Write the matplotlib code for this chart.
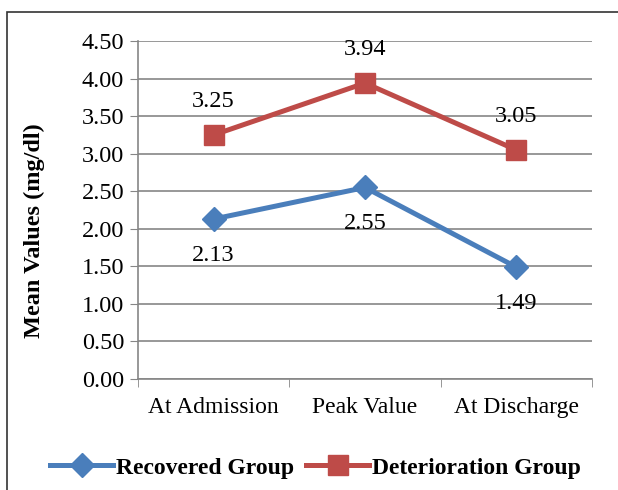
import matplotlib
matplotlib.use('Agg')
from matplotlib import pyplot as plt
from matplotlib.patches import Rectangle
import numpy as np

categories = ['At Admission', 'Peak Value', 'At Discharge']
recovered = [2.13, 2.55, 1.49]
deterioration = [3.25, 3.94, 3.05]
y_ticks = [0.0, 0.5, 1.0, 1.5, 2.0, 2.5, 3.0, 3.5, 4.0, 4.5]

plt.rcParams['font.family'] = ['Liberation Serif', 'DejaVu Serif']

fig = plt.figure(figsize=(6.18, 4.9), dpi=100)
ax = fig.add_axes([0.2233, 0.2265, 0.7346, 0.6898])

blue = '#4A7EBB'
red = '#BE4B48'
grid = '#868686'

x = np.arange(len(categories))
ax.plot(x, recovered, color=blue, lw=3.6, marker='D', ms=12, label='Recovered Group', zorder=3)
ax.plot(x, deterioration, color=red, lw=3.6, marker='s', ms=14, label='Deterioration Group', zorder=3)

for xi, v in zip(x, recovered):
    ax.annotate(f'{v:.2f}', (xi, v), xytext=(0, -26), textcoords='offset points',
                ha='center', va='center', fontsize=17.5)
for xi, v in zip(x, deterioration):
    ax.annotate(f'{v:.2f}', (xi, v), xytext=(0, 24), textcoords='offset points',
                ha='center', va='center', fontsize=17.5)

ax.set_xlim(-0.5, 2.5)
ax.set_ylim(0, 4.5)
ax.set_yticks(y_ticks)
ax.set_yticklabels([f'{t:.2f}' for t in y_ticks], fontsize=17.5)
ax.set_xticks(x)
ax.set_xticklabels(categories, fontsize=17)
ax.set_xticks([-0.5, 0.5, 1.5, 2.5], minor=True)
ax.tick_params(axis='x', which='major', length=0, pad=13)
ax.tick_params(axis='x', which='minor', length=6, color=grid, direction='out')
ax.tick_params(axis='y', length=6, color=grid, direction='out', pad=4)

ax.grid(axis='y', color=grid, lw=1.2)
ax.set_axisbelow(True)
for s in ['top', 'right']:
    ax.spines[s].set_visible(False)
for s in ['left', 'bottom']:
    ax.spines[s].set_color(grid)
    ax.spines[s].set_linewidth(1.2)

ax.set_ylabel('Mean Values (mg/dl)', fontsize=17.5, fontweight='bold')
ax.yaxis.set_label_coords(-0.205, 0.44)

fig.legend(loc='center', bbox_to_anchor=(0.51, 0.045), ncol=2, frameon=False,
           prop={'weight': 'bold', 'size': 17}, handlelength=2.7, handletextpad=0.1,
           columnspacing=0.5)

fig.patches.append(Rectangle((7 / 618, -0.1), 1.2, 1 - 12 / 490 + 0.1,
                             transform=fig.transFigure, fill=False,
                             edgecolor='#333333', lw=1.2))

fig.savefig('out.png', dpi=100)
